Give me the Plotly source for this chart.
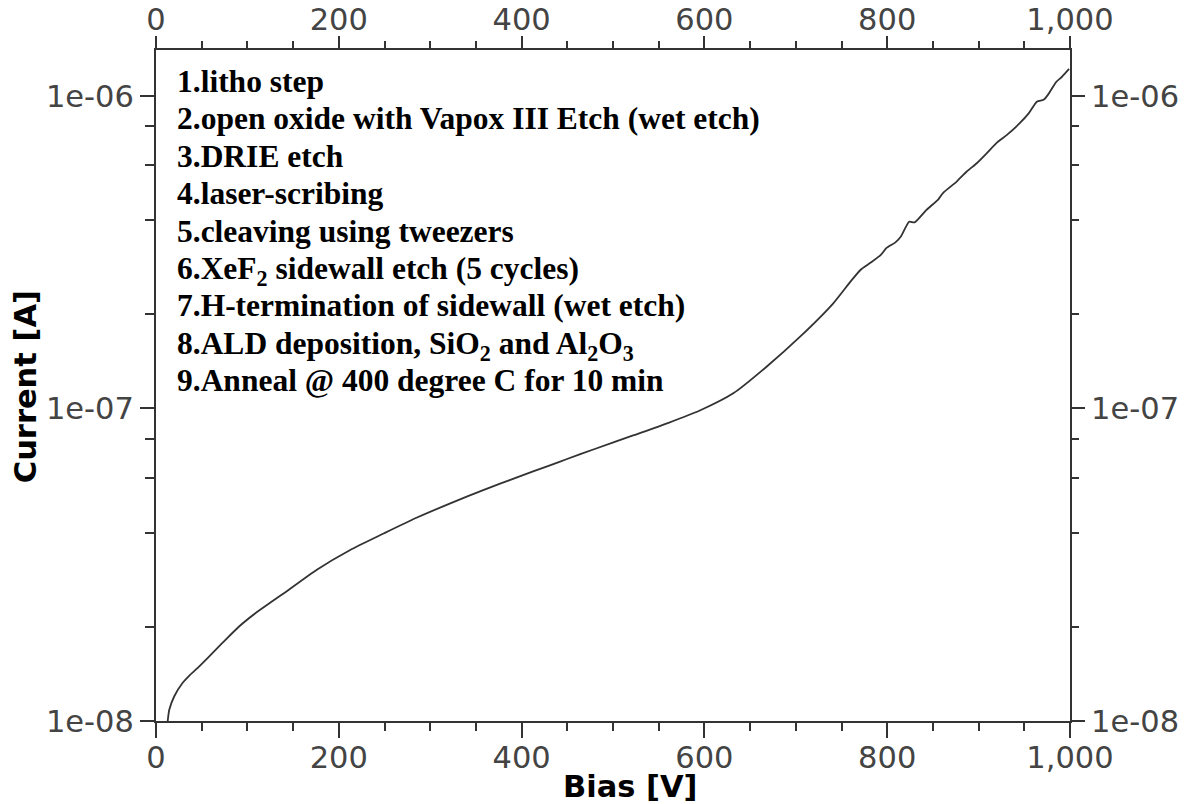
import math
import plotly.graph_objects as go

# ---- data ----
bias_v = [12.8, 14.6, 20.0, 29.2, 36.5, 47.4, 58.3, 72.9, 91.2, 109.4, 127.6, 140.4, 176,
          212, 249, 285, 322, 358, 395, 431, 449, 480, 522, 560, 595, 632, 668, 705, 741,
          760, 771, 782, 793, 799, 809, 815, 824, 830, 843, 856, 861, 876, 887, 898, 909,
          920, 931, 945, 955, 964, 971, 976, 985, 991, 999]
current_a = [1.00e-8, 1.088e-8, 1.20e-8, 1.325e-8, 1.398e-8, 1.496e-8, 1.61e-8, 1.78e-8,
             2.01e-8, 2.22e-8, 2.42e-8, 2.57e-8, 3.05e-8, 3.52e-8, 3.98e-8, 4.47e-8,
             4.97e-8, 5.48e-8, 6.02e-8, 6.58e-8, 6.88e-8, 7.42e-8, 8.20e-8, 8.98e-8,
             9.85e-8, 1.12e-7, 1.36e-7, 1.70e-7, 2.17e-7, 2.55e-7, 2.78e-7, 2.93e-7,
             3.10e-7, 3.26e-7, 3.40e-7, 3.55e-7, 3.96e-7, 3.94e-7, 4.32e-7, 4.67e-7,
             4.89e-7, 5.32e-7, 5.73e-7, 6.09e-7, 6.56e-7, 7.09e-7, 7.51e-7, 8.18e-7,
             8.81e-7, 9.60e-7, 9.72e-7, 1.01e-6, 1.11e-6, 1.15e-6, 1.22e-6]

y_tick_vals = [1e-8, 1e-7, 1e-6]
y_tick_text = ["1e-08", "1e-07", "1e-06"]
y_minor_vals = [2e-8, 4e-8, 6e-8, 8e-8, 2e-7, 4e-7, 6e-7, 8e-7]

notes = [
    "1.litho step",
    "2.open oxide with Vapox III Etch (wet etch)",
    "3.DRIE etch",
    "4.laser-scribing",
    "5.cleaving using tweezers",
    "6.XeF<sub>2</sub> sidewall etch (5 cycles)",
    "7.H-termination of sidewall (wet etch)",
    "8.ALD deposition, SiO<sub>2</sub> and Al<sub>2</sub>O<sub>3</sub>",
    "9.Anneal @ 400 degree C for 10 min",
]
x_title = "Bias [V]"
y_title = "Current [A]"

# ---- layout geometry (pixels) ----
W, H = 1188, 804
L, R, T, B = 156, 1070, 50, 721.5
pw, ph = R - L, B - T

def px_x(x):
    return (x - L) / pw

def px_y(y):
    return 1 - (y - T) / ph

tick_font = dict(family="DejaVu Sans", size=30.5, color="#444")
axis_col = "#333"

fig = go.Figure()
fig.add_trace(go.Scatter(x=bias_v, y=current_a, mode="lines",
                         line=dict(color="#333", width=1.8, shape="spline", smoothing=0.6),
                         showlegend=False))
fig.add_trace(go.Scatter(x=bias_v, y=current_a, mode="lines", xaxis="x2", yaxis="y2",
                         opacity=0, hoverinfo="skip", showlegend=False))

y_range = [-8, math.log10(1.403e-6)]

common_x = dict(range=[0, 1000], showgrid=False, zeroline=False, showline=True,
                linecolor=axis_col, linewidth=2, ticks="outside", tickwidth=2,
                tickcolor=axis_col, tickmode="linear", tick0=0, dtick=200,
                tickformat=",", tickfont=tick_font, automargin=False)
common_y = dict(type="log", range=y_range, showgrid=False, zeroline=False, showline=True,
                linecolor=axis_col, linewidth=2, ticks="outside", tickwidth=2,
                tickcolor=axis_col, tickmode="array", tickvals=y_tick_vals,
                ticktext=y_tick_text, tickfont=tick_font, automargin=False)

fig.update_layout(
    width=W, height=H,
    margin=dict(l=L, r=W - R, t=T, b=H - B, pad=0, autoexpand=False),
    paper_bgcolor="white", plot_bgcolor="white",
    xaxis=dict(**common_x, side="bottom", ticklen=15, ticklabelstandoff=-7,
               minor=dict(dtick=50, tick0=0, ticks="outside", ticklen=8, tickwidth=2,
                          tickcolor=axis_col)),
    xaxis2=dict(**common_x, side="top", overlaying="x", anchor="y", ticklen=12,
                ticklabelstandoff=-6,
                minor=dict(dtick=50, tick0=0, ticks="outside", ticklen=7, tickwidth=2,
                           tickcolor=axis_col)),
    yaxis=dict(**common_y, side="left", ticklen=14,
               minor=dict(tickmode="array", tickvals=y_minor_vals, ticks="outside",
                          ticklen=9, tickwidth=2, tickcolor=axis_col)),
    yaxis2=dict(**common_y, side="right", overlaying="y", anchor="x", ticklen=13,
                minor=dict(tickmode="array", tickvals=y_minor_vals, ticks="outside",
                           ticklen=7, tickwidth=2, tickcolor=axis_col)),
    showlegend=False,
)

annotations = []
base0, step, fs = 91.7, 37.5, 31.5
for i, txt in enumerate(notes):
    baseline = base0 + i * step
    top = baseline - 0.891 * fs - 2
    annotations.append(dict(
        text="<b>" + txt + "</b>", xref="paper", yref="paper",
        x=px_x(175), y=px_y(top), xanchor="left", yanchor="top", showarrow=False,
        font=dict(family="Liberation Serif, Times New Roman, serif", size=fs, color="black"),
    ))

annotations.append(dict(text="<b>" + x_title + "</b>", xref="paper", yref="paper",
                        x=px_x(630), y=px_y(787), xanchor="center", yanchor="middle",
                        showarrow=False,
                        font=dict(family="DejaVu Sans", size=30.5, color="black")))
annotations.append(dict(text="<b>" + y_title + "</b>", xref="paper", yref="paper",
                        x=px_x(25), y=px_y(387.5), xanchor="center", yanchor="middle",
                        textangle=-90, showarrow=False,
                        font=dict(family="DejaVu Sans", size=30.5, color="black")))
fig.update_layout(annotations=annotations)

fig.write_html("out.html")
